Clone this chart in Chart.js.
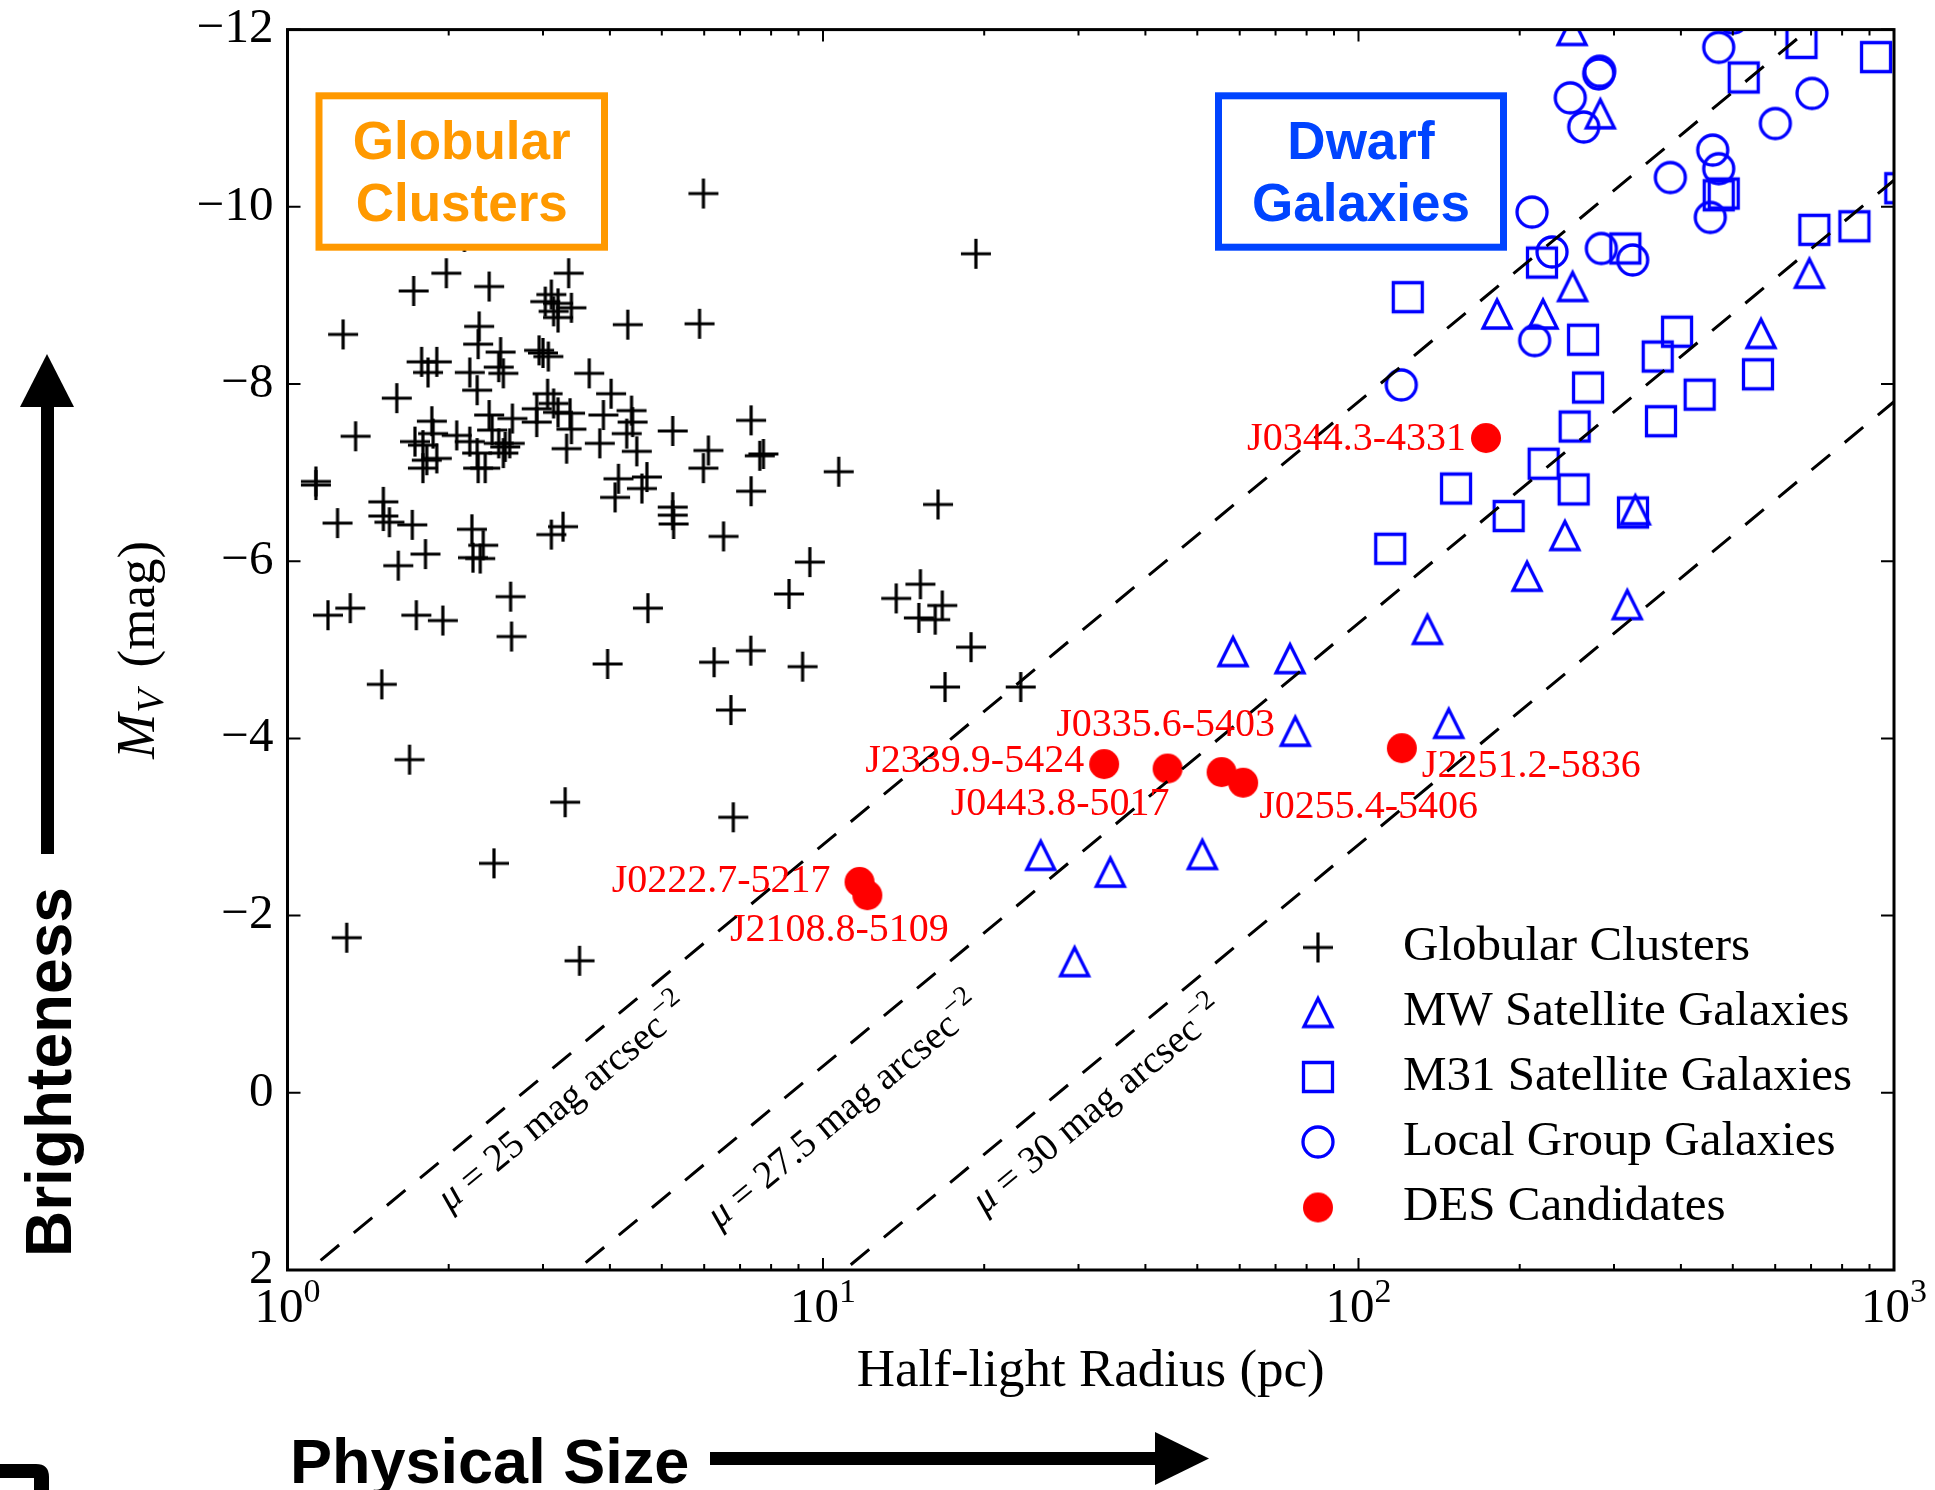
<!DOCTYPE html>
<html>
<head>
<meta charset="utf-8">
<script src="https://cdn.jsdelivr.net/npm/chart.js@4.4.1/dist/chart.umd.min.js"></script>
<style>
  html, body { margin: 0; padding: 0; background: #ffffff; }
  canvas { display: block; }
</style>
</head>
<body>
<canvas id="sizeLum" width="1935" height="1490"></canvas>
<script>
// ---- Globular clusters: half-light radius (pc), absolute V magnitude ----
const gcRadius = [1.98, 1.72, 2.38, 3.35, 3.11, 3.03, 3.20, 3.39, 3.14, 3.20,
  1.27, 2.28, 4.32, 5.88, 2.27, 2.95, 3.00, 3.07, 1.78, 1.90,
  1.83, 2.19, 2.50, 2.48, 2.53, 3.66, 2.26, 1.60, 4.02, 3.06,
  2.92, 3.14, 3.20, 3.37, 3.39, 2.92, 4.39, 4.41, 3.89, 3.83,
  4.30, 4.49, 5.24, 7.34, 1.86, 1.34, 2.38, 2.41, 2.63, 1.73,
  1.79, 1.87, 1.82, 1.79, 1.90, 2.07, 2.19, 2.26, 2.27, 2.34,
  2.48, 2.55, 2.53, 2.60, 6.11, 5.98, 7.62, 7.74, 7.34, 3.32,
  1.13, 1.13, 4.15, 4.09, 4.69, 4.59, 5.24, 5.24, 5.26, 1.51,
  1.51, 1.55, 1.24, 1.71, 2.21, 2.32, 2.29, 2.22, 3.27, 3.11,
  6.52, 1.81, 1.61, 9.45, 2.61, 8.64, 1.19, 1.31, 1.74, 1.95,
  4.71, 2.62, 3.96, 6.26, 7.33, 9.16, 1.50, 6.73, 2.14, 5.98,
  19.3, 10.7, 16.4, 15.2, 13.7, 16.7, 15.1, 16.2, 18.9, 16.9,
  23.4, 1.69, 3.30, 6.80, 2.43, 1.29, 3.51];
const gcMag = [-9.25, -9.05, -9.10, -9.25, -9.01, -8.93, -8.91, -8.86, -8.82, -8.75,
  -8.56, -8.65, -8.67, -8.68, -8.45, -8.38, -8.35, -8.31, -8.25, -8.25,
  -8.13, -8.13, -8.36, -8.19, -8.12, -8.12, -7.93, -7.84, -7.89, -7.89,
  -7.72, -7.78, -7.68, -7.67, -7.49, -7.57, -7.70, -7.57, -7.65, -7.33,
  -7.44, -7.24, -7.47, -7.59, -7.58, -7.41, -7.65, -7.48, -7.61, -7.35,
  -7.31, -7.44, -7.14, -7.05, -7.16, -7.42, -7.35, -7.22, -7.05, -7.05,
  -7.33, -7.29, -7.22, -7.33, -7.25, -7.05, -7.19, -7.21, -6.79, -7.27,
  -6.90, -6.86, -6.93, -6.72, -6.95, -6.82, -6.61, -6.52, -6.42, -6.67,
  -6.51, -6.44, -6.43, -6.41, -6.36, -6.18, -6.03, -6.04, -6.39, -6.30,
  -6.28, -6.08, -5.95, -5.99, -5.60, -5.63, -5.39, -5.47, -5.39, -5.33,
  -5.47, -5.15, -4.84, -4.86, -4.99, -4.81, -4.61, -4.32, -9.66, -10.15,
  -9.47, -7.01, -6.64, -5.74, -5.58, -5.50, -5.36, -5.34, -5.03, -4.58,
  -4.58, -3.76, -3.28, -3.11, -2.59, -1.75, -1.49];

// ---- Milky Way satellite galaxies ----
const mwRadius = [250.5, 282.9, 251.1, 181.4, 221.1, 695.0, 564.6, 328.8, 242.9, 206.4,
  317.6, 134.5, 58.3, 74.5, 147.4, 76.2, 51.1, 34.4, 25.5, 29.5];
const mwMag = [-11.99, -11.05, -9.10, -8.79, -8.79, -9.25, -8.57, -6.58, -6.29, -5.83,
  -5.51, -5.23, -4.98, -4.90, -4.17, -4.08, -2.69, -2.49, -2.68, -1.48];

// ---- M31 satellite galaxies ----
const m31Radius = [671.8, 925.6, 524.0, 470.6, 480.8, 1027.5, 710.0, 843.4, 315.0, 220.1,
  123.6, 262.6, 393.4, 362.0, 557.2, 268.3, 433.6, 367.1, 253.3, 221.7,
  152.1, 252.2, 190.7, 325.5, 114.6];
const m31Mag = [-11.85, -11.69, -11.46, -10.13, -10.15, -10.21, -9.74, -9.78, -9.53, -9.37,
  -8.98, -8.50, -8.59, -8.31, -8.11, -7.96, -7.88, -7.58, -7.52, -7.10,
  -6.82, -6.81, -6.51, -6.55, -6.14];

// ---- Other Local Group galaxies ----
const lgRadius = [500.4, 470.6, 282.1, 280.9, 248.6, 263.4, 703.0, 600.3, 458.6, 470.6,
  382.2, 453.9, 210.9, 229.8, 284.1, 325.1, 213.3, 120.2];
const lgMag = [-12.13, -11.80, -11.53, -11.50, -11.23, -10.90, -11.28, -10.94, -10.64, -10.43,
  -10.33, -9.88, -9.94, -9.49, -9.53, -9.40, -8.49, -7.99];

// ---- DES candidates ----
const desNames = ['J0344.3-4331', 'J2251.2-5836', 'J2339.9-5424', 'J0443.8-5017',
  'J0335.6-5403', 'J0255.4-5406', 'J0222.7-5217', 'J2108.8-5109'];
const desRadius = [173.0, 120.5, 33.5, 44.0, 55.5, 60.9, 11.7, 12.1];
const desMag = [-7.39, -3.89, -3.71, -3.66, -3.62, -3.50, -2.38, -2.23];

// ---- Constant surface-brightness guides (mag arcsec^-2) ----
const muValues = ['25', '27.5', '30'];
const muLineRadius = [1, 1000];
const mu25Mag = [2.20, -12.80];
const mu275Mag = [4.70, -10.30];
const mu30Mag = [7.20, -7.80];

// ---- Axis ticks ----
const xTickValues = [1, 10, 100, 1000];
const xTickExponents = ['0', '1', '2', '3'];
const yTickStep = 2;

// ---------------------------------------------------------------------------
const SERIF = '"Liberation Serif", "Times New Roman", serif';
const SANS = '"Liberation Sans", Arial, sans-serif';
const BLUE = '#0000ff';
const RED = '#ff0000';

// where each candidate's name sits relative to its marker (px)
const desLabelPlacement = [
  { align: 'right', dx: -20, dy: 1 },
  { align: 'left', dx: 20, dy: 18 },
  { align: 'right', dx: -20, dy: -3 },
  { align: 'right', dx: 2, dy: 36 },
  { align: 'center', dx: -56, dy: -47 },
  { align: 'left', dx: 16, dy: 25 },
  { align: 'right', dx: -29, dy: 0 },
  { align: 'center', dx: -28, dy: 35 }
];
// centre of each guide-line caption, in data units (radius, magnitude)
const muLabelRadius = [3.27, 10.94, 32.6];
const muLabelMag = [0.11, 0.20, 0.14];

function pairs(xs, ys) { return xs.map((x, i) => ({ x: x, y: ys[i] })); }

function makeMarker(kind) {
  const s = 44, c = s / 2;
  const cv = document.createElement('canvas');
  cv.width = s; cv.height = s;
  const g = cv.getContext('2d');
  g.lineJoin = 'miter';
  g.lineWidth = kind === 'plus' ? 3.2 : 3.3;
  g.strokeStyle = kind === 'plus' ? '#000000' : BLUE;
  g.beginPath();
  if (kind === 'plus') {
    g.moveTo(c - 15, c); g.lineTo(c + 15, c);
    g.moveTo(c, c - 15); g.lineTo(c, c + 15);
    g.stroke();
  } else if (kind === 'triangle') {
    const h = 14;
    g.moveTo(c, c - h); g.lineTo(c + h, c + h); g.lineTo(c - h, c + h); g.closePath();
    g.stroke();
  } else if (kind === 'square') {
    g.rect(c - 14.5, c - 14.5, 29, 29);
    g.stroke();
  } else if (kind === 'circle') {
    g.arc(c, c, 15, 0, 2 * Math.PI);
    g.stroke();
  } else {
    g.fillStyle = RED;
    g.arc(c, c, 15, 0, 2 * Math.PI);
    g.fill();
  }
  return cv;
}

const markers = {
  gc: makeMarker('plus'),
  mw: makeMarker('triangle'),
  m31: makeMarker('square'),
  lg: makeMarker('circle'),
  des: makeMarker('dot')
};

function guide(label, mags) {
  return {
    label: label, data: pairs(muLineRadius, mags), showLine: true,
    borderColor: '#000000', borderWidth: 3, borderDash: [24, 19],
    borderCapStyle: 'butt', pointRadius: 0, fill: false, clip: 0
  };
}
function points(label, xs, ys, style) {
  return { label: label, data: pairs(xs, ys), pointStyle: style, pointRadius: 16,
    pointHoverRadius: 16, showLine: false, clip: 0 };
}

const datasets = [
  guide('mu = 25', mu25Mag),
  guide('mu = 27.5', mu275Mag),
  guide('mu = 30', mu30Mag),
  points('DES Candidates', desRadius, desMag, markers.des),
  points('Local Group Galaxies', lgRadius, lgMag, markers.lg),
  points('M31 Satellite Galaxies', m31Radius, m31Mag, markers.m31),
  points('MW Satellite Galaxies', mwRadius, mwMag, markers.mw),
  points('Globular Clusters', gcRadius, gcMag, markers.gc)
];
const legendOrder = ['Globular Clusters', 'MW Satellite Galaxies', 'M31 Satellite Galaxies',
  'Local Group Galaxies', 'DES Candidates'];
const legendMarker = { 'Globular Clusters': markers.gc, 'MW Satellite Galaxies': markers.mw,
  'M31 Satellite Galaxies': markers.m31, 'Local Group Galaxies': markers.lg,
  'DES Candidates': markers.des };

// draw a run of text pieces (font / vertical shift) as one line
function drawRich(ctx, segs, x, y, align) {
  let total = 0;
  segs.forEach(s => { ctx.font = s.font; s.w = ctx.measureText(s.text).width + (s.gap || 0); total += s.w; });
  let cx = align === 'center' ? x - total / 2 : (align === 'right' ? x - total : x);
  ctx.textAlign = 'left';
  segs.forEach(s => { ctx.font = s.font; ctx.fillText(s.text, cx, y + (s.dy || 0)); cx += s.w; });
}

function labelBox(ctx, x0, y0, x1, y1, color, lines) {
  ctx.save();
  ctx.fillStyle = '#ffffff';
  ctx.fillRect(x0, y0, x1 - x0, y1 - y0);
  ctx.lineWidth = 7;
  ctx.strokeStyle = color;
  ctx.strokeRect(x0, y0, x1 - x0, y1 - y0);
  ctx.fillStyle = color;
  ctx.font = 'bold 53px ' + SANS;
  ctx.textAlign = 'center';
  ctx.textBaseline = 'alphabetic';
  const cx = (x0 + x1) / 2;
  ctx.fillText(lines[0], cx, y0 + 63.5);
  ctx.fillText(lines[1], cx, y0 + 124.7);
  ctx.restore();
}

const decor = {
  id: 'decor',
  afterDatasetsDraw(chart) {
    const ctx = chart.ctx, xs = chart.scales.x, ys = chart.scales.y, a = chart.chartArea;

    // candidate names
    ctx.save();
    ctx.fillStyle = RED;
    ctx.font = '40px ' + SERIF;
    ctx.textBaseline = 'middle';
    desNames.forEach((name, i) => {
      const px = xs.getPixelForValue(desRadius[i]);
      const py = ys.getPixelForValue(desMag[i]);
      const p = desLabelPlacement[i];
      ctx.textAlign = p.align;
      ctx.fillText(name, px + p.dx, py + p.dy);
    });
    ctx.restore();

    // guide-line captions, rotated along the lines
    const lx0 = xs.getPixelForValue(muLineRadius[0]), lx1 = xs.getPixelForValue(muLineRadius[1]);
    const ly0 = ys.getPixelForValue(mu25Mag[0]), ly1 = ys.getPixelForValue(mu25Mag[1]);
    const ang = Math.atan2(ly1 - ly0, lx1 - lx0);
    muValues.forEach((mu, i) => {
      ctx.save();
      ctx.translate(xs.getPixelForValue(muLabelRadius[i]), ys.getPixelForValue(muLabelMag[i]));
      ctx.rotate(ang);
      ctx.fillStyle = '#000000';
      ctx.textBaseline = 'alphabetic';
      drawRich(ctx, [
        { text: '\u03bc', font: 'italic 39px ' + SERIF },
        { text: ' = ' + mu + ' mag arcsec', font: '39px ' + SERIF },
        { text: '\u22122', font: '28px ' + SERIF, dy: -16 }
      ], 0, 12, 'center');
      ctx.restore();
    });

    // annotation boxes
    labelBox(ctx, 319, 95.8, 604.5, 247.2, '#ff9900', ['Globular', 'Clusters']);
    labelBox(ctx, 1218.5, 95.8, 1503.5, 247.2, '#0044ff', ['Dwarf', 'Galaxies']);

    // frame and inward ticks
    ctx.save();
    ctx.strokeStyle = '#000000';
    ctx.lineWidth = 2;
    ctx.beginPath();
    ys.ticks.forEach(t => {
      const y = ys.getPixelForValue(t.value);
      ctx.moveTo(a.left, y); ctx.lineTo(a.left + 13, y);
      ctx.moveTo(a.right, y); ctx.lineTo(a.right - 13, y);
    });
    xTickValues.forEach((v, k) => {
      const x = xs.getPixelForValue(v);
      ctx.moveTo(x, a.bottom); ctx.lineTo(x, a.bottom - 12);
      ctx.moveTo(x, a.top); ctx.lineTo(x, a.top + 12);
      if (k < xTickValues.length - 1) {
        for (let m = 2; m <= 9; m++) {
          const xm = xs.getPixelForValue(v * m);
          ctx.moveTo(xm, a.bottom); ctx.lineTo(xm, a.bottom - 6);
          ctx.moveTo(xm, a.top); ctx.lineTo(xm, a.top + 6);
        }
      }
    });
    ctx.stroke();
    ctx.lineWidth = 3;
    ctx.strokeRect(a.left, a.top, a.right - a.left, a.bottom - a.top);
    ctx.restore();

    // legend
    ctx.save();
    ctx.fillStyle = '#000000';
    ctx.font = '49px ' + SERIF;
    ctx.textAlign = 'left';
    ctx.textBaseline = 'alphabetic';
    const rowY = [947.5, 1012.5, 1077, 1142, 1207.5];
    legendOrder.forEach((lab, i) => {
      const ds = chart.data.datasets.find(d => d.label === lab);
      const mk = legendMarker[ds.label];
      ctx.drawImage(mk, 1318 - mk.width / 2, rowY[i] - mk.height / 2);
      ctx.fillText(ds.label, 1403, rowY[i] + 12.5);
    });
    ctx.restore();
  },

  afterDraw(chart) {
    const ctx = chart.ctx, xs = chart.scales.x, a = chart.chartArea;
    ctx.save();
    ctx.fillStyle = '#000000';
    ctx.textBaseline = 'alphabetic';

    // x tick labels 10^n
    xTickValues.forEach((v, k) => {
      drawRich(ctx, [
        { text: '10', font: '49px ' + SERIF },
        { text: xTickExponents[k], font: '34px ' + SERIF, dy: -20 }
      ], xs.getPixelForValue(v), 1321.5, 'center');
    });

    // axis titles
    drawRich(ctx, [{ text: 'Half-light Radius (pc)', font: '53px ' + SERIF }],
      (a.left + a.right) / 2, 1386, 'center');
    ctx.save();
    ctx.translate(154, (a.top + a.bottom) / 2);
    ctx.rotate(-Math.PI / 2);
    drawRich(ctx, [
      { text: 'M', font: 'italic 54px ' + SERIF, gap: 1 },
      { text: 'V', font: 'italic 38px ' + SERIF, dy: 9, gap: 22 },
      { text: '(mag)', font: '53px ' + SERIF }
    ], 0, 0, 'center');
    ctx.restore();

    // outer direction hints
    ctx.font = 'bold 63px ' + SANS;
    ctx.textAlign = 'left';
    ctx.fillText('Physical Size', 290, 1483);
    ctx.save();
    ctx.translate(71, 1257);
    ctx.rotate(-Math.PI / 2);
    ctx.font = 'bold 64px ' + SANS;
    ctx.fillText('Brighteness', 0, 0);
    ctx.restore();

    // up arrow
    ctx.fillRect(41, 405, 13, 449);
    ctx.beginPath();
    ctx.moveTo(20, 407); ctx.lineTo(74, 407); ctx.lineTo(47, 354); ctx.closePath();
    ctx.fill();
    // right arrow
    ctx.fillRect(710, 1452, 447, 13);
    ctx.beginPath();
    ctx.moveTo(1155, 1432); ctx.lineTo(1155, 1485); ctx.lineTo(1209, 1458.5); ctx.closePath();
    ctx.fill();

    // partly visible glyph in the lower-left corner
    ctx.beginPath();
    ctx.moveTo(0, 1464); ctx.lineTo(36, 1464);
    ctx.quadraticCurveTo(49, 1464, 49, 1477);
    ctx.lineTo(49, 1490); ctx.lineTo(34, 1490); ctx.lineTo(34, 1478); ctx.lineTo(0, 1478);
    ctx.closePath();
    ctx.fill();
    ctx.restore();
  }
};

new Chart(document.getElementById('sizeLum'), {
  type: 'scatter',
  data: { datasets: datasets },
  options: {
    responsive: false,
    animation: false,
    devicePixelRatio: 1,
    layout: { padding: { top: 29.6, right: 41, bottom: 0, left: 0 } },
    plugins: { legend: { display: false }, tooltip: { enabled: false } },
    scales: {
      x: {
        type: 'logarithmic', min: 1, max: 1000, position: 'bottom',
        grid: { display: false, drawTicks: false }, border: { display: false },
        ticks: { display: false },
        afterFit(scale) {
          scale.height = 220;
          scale.paddingLeft = 0; scale.paddingRight = 0;
        }
      },
      y: {
        type: 'linear', min: -12, max: 2, reverse: true, position: 'left',
        grid: { display: false, drawTicks: false }, border: { display: false },
        ticks: {
          stepSize: yTickStep, padding: 14, color: '#000000',
          font: { family: SERIF, size: 49 },
          callback: v => (v < 0 ? '\u2212' + Math.abs(v) : String(v))
        },
        afterFit(scale) {
          scale.width = 287.5;
          scale.paddingTop = 0; scale.paddingBottom = 0;
        }
      }
    }
  },
  plugins: [decor]
});
</script>
</body>
</html>
